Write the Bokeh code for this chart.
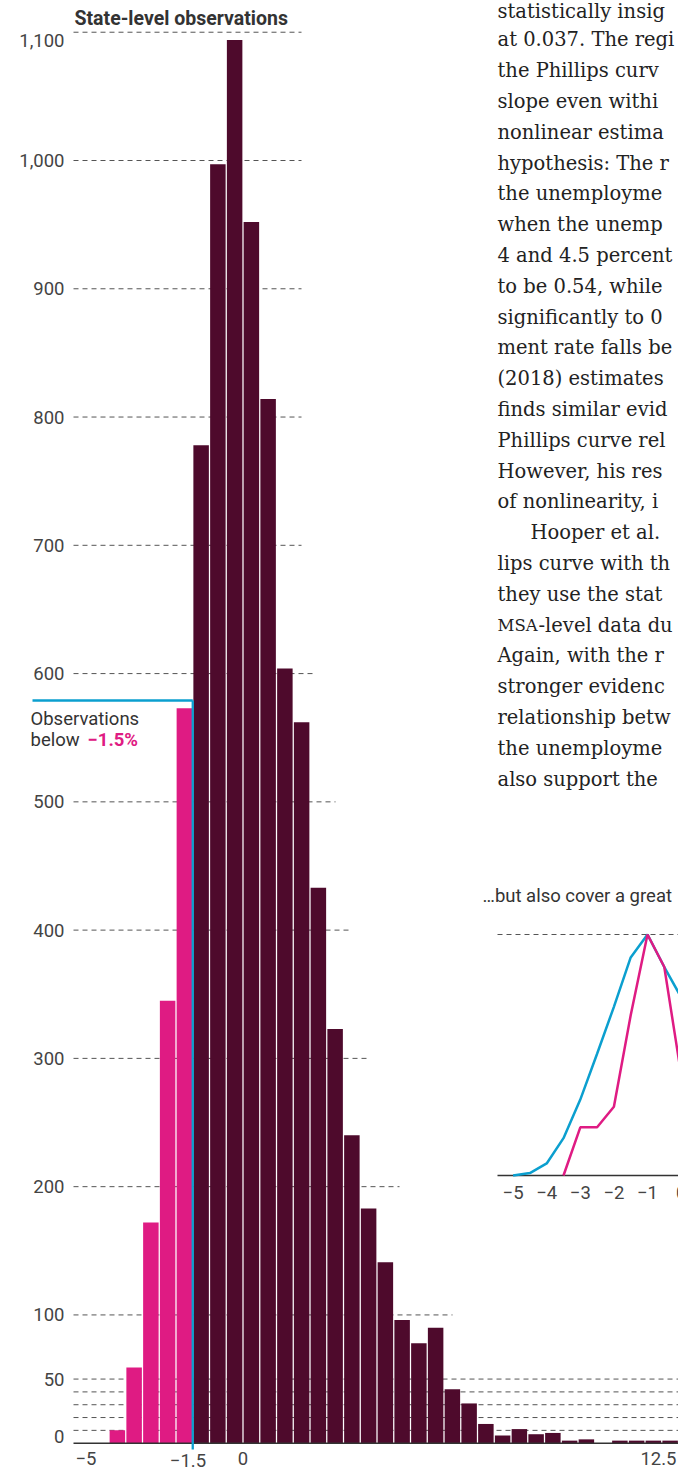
from bokeh.plotting import figure
from bokeh.models import Range1d
from bokeh.core.properties import value
from bokeh.embed import file_html
from bokeh.resources import INLINE

# ---------------- data ----------------
bin_starts = [-4.0, -3.5, -3.0, -2.5, -2.0, -1.5, -1.0, -0.5, 0.0, 0.5,
              1.0, 1.5, 2.0, 2.5, 3.0, 3.5, 4.0, 4.5, 5.0, 5.5,
              6.0, 6.5, 7.0, 7.5, 8.0, 8.5, 9.0, 9.5, 10.0, 10.5,
              11.0, 11.5, 12.0, 12.5]
counts = [10, 59, 172, 345, 573, 778, 997, 1094, 952, 814,
          604, 562, 433, 323, 240, 183, 141, 96, 78, 90,
          42, 31, 15, 6, 11, 7, 8, 2, 3, 0,
          2, 2, 2, 2]
bin_width = 0.5
threshold = -1.5
threshold_level = 579
y_ticks = [0, 50, 100, 200, 300, 400, 500, 600, 700, 800, 900, 1000, 1100]
y_tick_labels = ["0", "50", "100", "200", "300", "400", "500", "600", "700", "800",
                 "900", "1,000", "1,100"]
grid_values = [10, 20, 30, 40, 50, 100, 200, 300, 400, 500, 600, 700, 800, 900, 1000, 1100]
x_ticks = [-5, 0, 12.5]
x_tick_labels = ["\u22125", "0", "12.5"]

inset_x_blue = [-5.0, -4.5, -4.0, -3.5, -3.0, -2.5, -2.0, -1.5, -1.0, -0.5, 0.0]
inset_blue = [0, 1, 5, 15.5, 31.5, 50.5, 70, 90.5, 100, 86.5, 74]
inset_x_pink = [-3.5, -3.0, -2.5, -2.0, -1.5, -1.0, -0.5, 0.0]
inset_pink = [0, 20, 20, 28.5, 66.5, 100, 86.5, 42]
inset_ticks = [-5, -4, -3, -2, -1, 0]
inset_tick_labels = ["\u22125", "\u22124", "\u22123", "\u22122", "\u22121", "0"]

para_lines = [
    "statistically insig",
    "at 0.037. The regi",
    "the Phillips curv",
    "slope even withi",
    "nonlinear estima",
    "hypothesis: The r",
    "the unemployme",
    "when the unemp",
    "4 and 4.5 percent",
    "to be 0.54, while",
    "significantly to 0",
    "ment rate falls be",
    "(2018) estimates",
    "finds similar evid",
    "Phillips curve rel",
    "However, his res",
    "of nonlinearity, i",
    "Hooper et al.",
    "lips curve with th",
    "they use the stat",
    "-level data du",
    "Again, with the r",
    "stronger evidenc",
    "relationship betw",
    "the unemployme",
    "also support the",
]

# ---------------- colours / fonts ----------------
DARK = "#4e0a2c"
PINK = "#df1b83"
CYAN = "#0b9fcf"
TXT = "#333333"
TICK = "#444444"
SANS = "Roboto"
SERIF = "DejaVu Serif"

# ---------------- layout (page pixels; frame = whole figure) ----------------
W, H = 678, 1471
X0_PX, X_UNIT = 242.5, 33.5        # page x of value 0, px per unit
Y0_PX, Y_UNIT = 1442.7, 1.2827     # page y of value 0, px per count
XR = (-X0_PX / X_UNIT, (W - X0_PX) / X_UNIT)
YR = (-(H - Y0_PX) / Y_UNIT, Y0_PX / Y_UNIT)


def dx(px):
    return (px - X0_PX) / X_UNIT


def dy(py):
    return (Y0_PX - py) / Y_UNIT


# inset scale: x=-1 at page 647, 33.6 px/unit; y=0 at page 1175, 2.41 px/unit
def ix(px):
    return -1 + (px - 647.0) / 33.6


def iy(py):
    return (1175.0 - py) / 2.41


p = figure(width=W, height=H, min_border=0,
           x_range=Range1d(*XR), y_range=Range1d(*YR),
           x_axis_location=None, y_axis_location=None,
           output_backend="svg", toolbar_location=None)
p.outline_line_color = None
p.background_fill_color = "white"
p.border_fill_color = "white"
p.xgrid.visible = False
p.ygrid.visible = False
p.extra_x_ranges = {"inset": Range1d(ix(0), ix(W))}
p.extra_y_ranges = {"inset": Range1d(iy(H), iy(0))}

# dashed gridlines with varying extents (layout)
grid_end_px = {10: 690, 20: 690, 30: 690, 40: 690, 50: 690, 100: 452, 200: 399, 300: 367,
               400: 352, 500: 335, 600: 314, 700: 301, 800: 301, 900: 301, 1000: 301, 1100: 301}
p.segment(x0=[dx(73)] * len(grid_values), y0=grid_values,
          x1=[dx(grid_end_px[v]) for v in grid_values], y1=grid_values,
          line_color="#555555", line_width=1, line_dash="5 4")

# y tick labels (the "0" and "1,100" labels are nudged as in the original)
label_nudge_px = {0: 1436, 1100: 40}
y_label_pos = [dy(label_nudge_px[v]) if v in label_nudge_px else v for v in y_ticks]
p.text(x=[dx(64)] * len(y_ticks), y=y_label_pos, text=y_tick_labels,
       text_font=value(SANS), text_font_size=value("18.5px"), text_color=TICK,
       text_align="right", text_baseline="middle")

# bars
centers = [s + bin_width / 2 for s in bin_starts]
colors = [PINK if s < threshold else DARK for s in bin_starts]
p.vbar(x=centers, top=counts, bottom=0, width=bin_width * 0.925,
       fill_color=colors, line_color=None)

# x baseline and tick labels
p.segment(x0=[dx(73)], y0=[0], x1=[dx(W + 5)], y1=[0], line_color="#333333", line_width=1.5)
p.text(x=[x_ticks[0]], y=[dy(1458)], text=[x_tick_labels[0]], text_font=value(SANS),
       text_font_size=value("18.5px"), text_color=TICK, text_align="left", text_baseline="middle")
p.text(x=[x_ticks[1]], y=[dy(1458)], text=[x_tick_labels[1]], text_font=value(SANS),
       text_font_size=value("18.5px"), text_color=TICK, text_align="center", text_baseline="middle")
p.text(x=[dx(676)], y=[dy(1458)], text=[x_tick_labels[2]], text_font=value(SANS),
       text_font_size=value("18.5px"), text_color=TICK, text_align="right", text_baseline="middle")

# threshold marker
p.segment(x0=[threshold], y0=[dy(1449)], x1=[threshold], y1=[threshold_level],
          line_color=CYAN, line_width=2.3)
p.segment(x0=[dx(32)], y0=[threshold_level], x1=[threshold], y1=[threshold_level],
          line_color=CYAN, line_width=2.3)
p.text(x=[dx(187.5)], y=[dy(1459.5)], text=["\u22121.5"], text_font=value(SANS),
       text_font_size=value("18.5px"), text_color=TICK, text_align="center", text_baseline="middle")

# titles / annotations
p.text(x=[dx(74)], y=[dy(18)], text=["State-level observations"], text_font=value(SANS),
       text_font_style="bold", text_font_size=value("19.5px"), text_color=TXT,
       text_baseline="alphabetic", text_align="left")
p.text(x=[dx(30), dx(30)], y=[dy(718), dy(739)], text=["Observations", "below"], text_font=value(SANS),
       text_font_size=value("18.5px"), text_color=TXT, text_baseline="alphabetic")
p.text(x=[dx(87)], y=[dy(739)], text=["\u22121.5%"], text_font=value(SANS), text_font_style="bold",
       text_font_size=value("18.5px"), text_color=PINK, text_baseline="alphabetic")

# paragraph text (right column)
base0, lead = 8.5, 30.8
px_x = []
py_y = []
for i, t in enumerate(para_lines):
    if t.startswith("Hooper"):
        px_x.append(530)
    elif t.startswith("-level"):
        px_x.append(538)
    else:
        px_x.append(497)
    py_y.append(max(base0 + i * lead, 10.5))
p.text(x=[dx(v) for v in px_x], y=[dy(v) for v in py_y],
       text=para_lines, text_font=value(SERIF), text_font_size=value("19.5px"),
       text_color="#222222", text_baseline="alphabetic", text_align="left")
msa_i = para_lines.index("-level data du")
p.text(x=[dx(497)], y=[dy(py_y[msa_i])], text=["MSA"], text_font=value(SERIF),
       text_font_size=value("16.5px"), text_color="#222222", text_baseline="alphabetic")

# inset chart
p.text(x=[dx(482)], y=[dy(895)], text=["\u2026but also cover a great"], text_font=value(SANS),
       text_font_size=value("18.5px"), text_color=TXT, text_baseline="alphabetic")
p.segment(x0=[ix(497)], y0=[100], x1=[ix(W + 5)], y1=[100], x_range_name="inset", y_range_name="inset",
          line_color="#555555", line_width=1, line_dash="5 4")
p.segment(x0=[ix(497)], y0=[0], x1=[ix(W + 5)], y1=[0], x_range_name="inset", y_range_name="inset",
          line_color="#333333", line_width=1.5)
p.line(inset_x_blue, inset_blue, x_range_name="inset", y_range_name="inset",
       line_color=CYAN, line_width=2.5)
p.line(inset_x_pink, inset_pink, x_range_name="inset", y_range_name="inset",
       line_color=PINK, line_width=2.5)
p.text(x=inset_ticks, y=[iy(1192)] * len(inset_ticks), text=inset_tick_labels,
       x_range_name="inset", y_range_name="inset", text_font=value(SANS),
       text_font_size=value("18.5px"), text_color=TICK, text_baseline="middle", text_align="center")

open("out.html", "w").write(file_html(p, INLINE))
